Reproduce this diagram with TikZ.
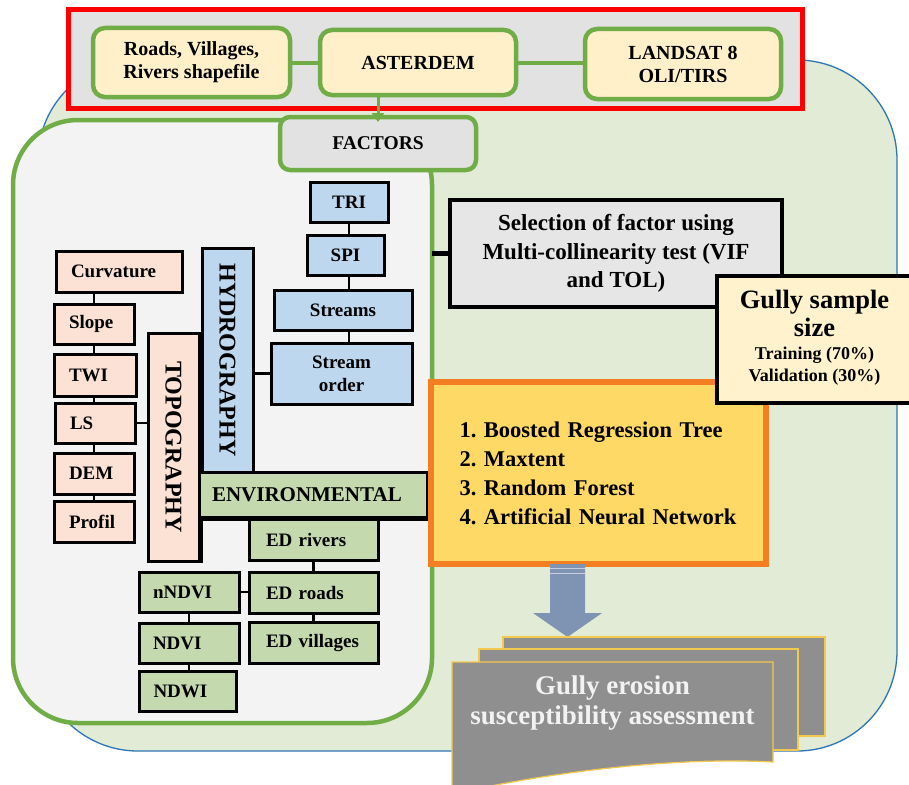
\documentclass[tikz,border=0pt]{standalone}
\usepackage{fontspec}
\setmainfont{Liberation Serif}
\usepackage{graphicx}
\usetikzlibrary{arrows.meta}
\definecolor{bggreen}{HTML}{E2EBD5}
\definecolor{bgblue}{HTML}{2E75B6}
\definecolor{accgreen}{HTML}{70AD47}
\definecolor{panelgray}{HTML}{F3F3F3}
\definecolor{topgray}{HTML}{E2E2E2}
\definecolor{cream}{HTML}{FFF0C9}
\definecolor{lblue}{HTML}{BDD7EE}
\definecolor{peach}{HTML}{FCE2D4}
\definecolor{lgreen}{HTML}{C5D9AF}
\definecolor{selgray}{HTML}{E6E6E6}
\definecolor{gcream}{HTML}{FFF2CC}
\definecolor{ofill}{HTML}{FFD966}
\definecolor{oline}{HTML}{F47F22}
\definecolor{arrblue}{HTML}{7F94B3}
\definecolor{docgray}{HTML}{8F8F8F}
\definecolor{docline}{HTML}{F2C84E}
\newcommand{\myfs}[2]{\fontsize{#1}{#2}\selectfont}
\begin{document}
\frenchspacing
\begin{tikzpicture}[x=1pt,y=-1pt,
  every node/.style={inner sep=0pt, outer sep=0pt},
  srcbox/.style={draw=accgreen, line width=4.5pt, fill=cream, rounded corners=12pt, align=center, font=\bfseries\myfs{20}{23}},
  lab/.style={draw=black, line width=3pt, font=\bfseries\myfs{19}{23}},
  bluebox/.style={lab, fill=lblue, align=center},
  pinkbox/.style={lab, fill=peach, align=left},
  grnbox/.style={lab, fill=lgreen, align=left},
  conn/.style={draw=black, line width=2.5pt},
  doc/.style={draw=docline, fill=docgray, line width=1.2pt}
]
\useasboundingbox (0,0) rectangle (909,784);
\fill[white] (0,0) rectangle (909,784);

% background
\node[draw=bgblue, line width=1.3pt, fill=bggreen, rounded corners=100pt, minimum width=859pt, minimum height=691pt] (bg) at (467.5,405.5) {};

% input frame
\node[draw=red, line width=5pt, fill=topgray, minimum width=734pt, minimum height=98pt] (inputs) at (435,59) {};
\node[srcbox, minimum width=197pt, minimum height=69pt] (roads) at (191.5,62.5) {Roads, Villages,\\Rivers shapefile};
\node[srcbox, minimum width=196pt, minimum height=65pt] (aster) at (418,62.5) {ASTERDEM};
\node[srcbox, minimum width=196pt, minimum height=70pt] (landsat) at (683,64) {LANDSAT 8\\OLI/TIRS};
\draw[accgreen, line width=4pt] (roads.east) -- (aster.west);
\draw[accgreen, line width=4pt] (aster.east) -- (aster.east -| landsat.west);

% factors panel
\node[draw=accgreen, line width=4.5pt, fill=panelgray, rounded corners=65pt, minimum width=419pt, minimum height=603pt] (panel) at (222.5,421.5) {};
\node[draw=accgreen, line width=4.5pt, fill=topgray, rounded corners=10pt, minimum width=196pt, minimum height=53pt, font=\bfseries\myfs{19.5}{23}] (factors) at (378,143.5) {FACTORS};
\draw[accgreen, line width=3pt, -{Triangle[length=9pt,width=12pt]}] (aster.south -| factors.north) -- ([yshift=-5pt]factors.north);

% hydrography
\node[bluebox, minimum width=78pt, minimum height=40pt] (tri) at (349,202) {TRI};
\node[bluebox, minimum width=77pt, minimum height=40pt] (spi) at (345.5,255) {SPI};
\node[bluebox, minimum width=138pt, minimum height=40pt] (streams) at (343,310) {Streams};
\node[bluebox, minimum width=141pt, minimum height=61pt] (sorder) at (341.5,373.5) {Stream\\order};
\node[bluebox, minimum width=51pt, minimum height=224pt, font=\bfseries\myfs{24}{28}] (hydro) at (227.5,360) {\rotatebox{-90}{HYDROGRAPHY}};
\draw[conn] (tri.south) -- (tri.south |- spi.north);
\draw[conn] (tri.south |- spi.south) -- (tri.south |- streams.north);
\draw[conn] (tri.south |- streams.south) -- (tri.south |- sorder.north);
\draw[conn] (sorder.west) -- (sorder.west -| hydro.east);

% topography
\node[pinkbox, text width=96pt, inner xsep=15pt, minimum height=41pt] (curv) at (119,271.5) {Curvature};
\node[pinkbox, text width=50pt, inner xsep=15pt, minimum height=40pt] (slope) at (94,324) {Slope};
\node[pinkbox, text width=52pt, inner xsep=15pt, minimum height=42pt] (twi) at (95,375) {TWI};
\node[pinkbox, text width=50pt, inner xsep=15pt, minimum height=40pt] (ls) at (95,423) {LS};
\node[pinkbox, text width=50pt, inner xsep=15pt, minimum height=41pt] (dem) at (94,473.5) {DEM};
\node[pinkbox, text width=50pt, inner xsep=15pt, minimum height=41pt] (profil) at (94,521.5) {Profil};
\node[lab, fill=peach, minimum width=51pt, minimum height=228pt, font=\bfseries\myfs{24}{28}] (topo) at (173.5,447) {\rotatebox{-90}{TOPOGRAPHY}};
\draw[black, line width=3pt] ([xshift=2.5pt]topo.north east) -- ([xshift=2.5pt,yshift=-2pt]topo.south east);
\draw[conn] (slope.north) -- (slope.north |- curv.south);
\draw[conn] (slope.south) -- (slope.south |- twi.north);
\draw[conn] (slope.south |- twi.south) -- (slope.south |- ls.north);
\draw[conn] (slope.south |- ls.south) -- (slope.south |- dem.north);
\draw[conn] (slope.south |- dem.south) -- (slope.south |- profil.north);
\draw[conn] (ls.east) -- (ls.east -| topo.west);

% environmental
\node[grnbox, text width=202pt, inner xsep=13pt, minimum height=45pt, font=\bfseries\myfs{21}{24}] (env) at (313,494.5) {ENVIRONMENTAL};
\draw[black, line width=3pt] ([xshift=2.5pt]env.north east) -- ([xshift=2.5pt,yshift=-2.5pt]env.south east) -- ([yshift=-2.5pt]env.south west);
\node[grnbox, text width=95pt, inner xsep=17pt, minimum height=41pt] (edriv) at (313.5,539.5) {ED rivers};
\node[grnbox, text width=95pt, inner xsep=17pt, minimum height=41pt] (edroad) at (313.5,592.5) {ED roads};
\node[grnbox, text width=95pt, inner xsep=17pt, minimum height=41pt] (edvill) at (313.5,642.5) {ED villages};
\node[grnbox, text width=72pt, inner xsep=14pt, minimum height=40pt] (nndvi) at (189,592) {nNDVI};
\node[grnbox, text width=72pt, inner xsep=14pt, minimum height=40pt] (ndvi) at (189,643) {NDVI};
\node[grnbox, text width=69pt, inner xsep=14pt, minimum height=40pt] (ndwi) at (188,691) {NDWI};
\draw[conn] (edriv.south) -- (edroad.north);
\draw[conn] (edroad.south) -- (edvill.north);
\draw[conn] (nndvi.east) -- (nndvi.east -| edroad.west);
\draw[conn] (nndvi.south) -- (nndvi.south |- ndvi.north);
\draw[conn] (nndvi.south |- ndvi.south) -- (nndvi.south |- ndwi.north);

% selection
\node[draw=black, line width=4pt, fill=selgray, minimum width=332pt, minimum height=107pt, align=center, font=\bfseries\myfs{23}{28.5}] (sel) at (616,253.5) {Selection of factor using\\Multi-collinearity test (VIF\\and TOL)};
\draw[black, line width=5pt] (sel.west) -- (sel.west -| panel.east);

% models
\node[draw=oline, fill=ofill, line width=5.5pt, minimum height=182pt, text width=300pt, inner xsep=17.5pt, align=left, font=\bfseries\myfs{22.5}{29}] (models) at (598.5,473) {\hspace*{11pt}1. Boosted Regression Tree\\\hspace*{11pt}2. Maxtent\\\hspace*{11pt}3. Random Forest\\\hspace*{11pt}4. Artificial Neural Network};

% gully sample
\node[draw=black, line width=4pt, fill=gcream, minimum width=195pt, minimum height=127pt, font=\bfseries\myfs{18}{22}] (gully) at (814.5,339.5) {\raisebox{-5pt}{\begin{tabular}{@{}c@{}}\myfs{26.5}{30}Gully sample\\[3pt]\myfs{26.5}{30}size\\[1pt]\myfs{18}{22}Training (70\%)\\\myfs{18}{22}Validation (30\%)\end{tabular}}};

% arrow
\fill[arrblue] (550,564) -- (585,564) -- (585,613) -- (602,613) -- (567.5,637) -- (533,613) -- (550,613) -- cycle;
\draw[white!55!arrblue, line width=1pt] (550,568) -- (585,568);
\draw[white!55!arrblue, line width=1pt] (550,573) -- (585,573);

% documents
\draw[doc] (503,637) rectangle (825,736);
\draw[doc] (479,649) rectangle (798,750);
\draw[doc] (452,662) -- (773,662) -- (773,762) .. controls (680,757) and (560,770) .. (452,794) -- cycle;
\node[font=\bfseries\myfs{27}{30}, text=white!95!black, align=center] (assess) at (612.5,703) {Gully erosion\\susceptibility assessment};
\end{tikzpicture}
\end{document}
